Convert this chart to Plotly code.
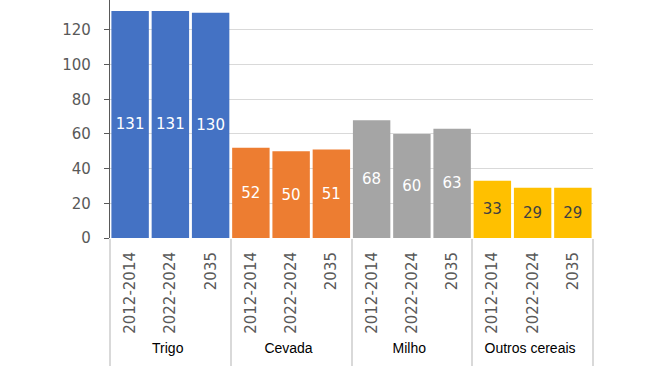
import plotly.graph_objects as go

groups = ["Trigo", "Cevada", "Milho", "Outros cereais"]
periods = ["2012-2014", "2022-2024", "2035"]
values = {
    "Trigo": [131, 131, 130],
    "Cevada": [52, 50, 51],
    "Milho": [68, 60, 63],
    "Outros cereais": [33, 29, 29],
}
group_colors = {"Trigo": "#4472C4", "Cevada": "#ED7D31", "Milho": "#A5A5A5", "Outros cereais": "#FFC000"}
label_colors = {"Trigo": "#FFFFFF", "Cevada": "#FFFFFF", "Milho": "#FFFFFF", "Outros cereais": "#404040"}
y_ticks = [0, 20, 40, 60, 80, 100, 120, 140]

outer, inner, ys, cols, tcols = [], [], [], [], []
for g in groups:
    lbl = ("<span style='font-family:Liberation Sans, Arial;font-size:14px;fill:#000000'>"
           + g + "</span><br> ")
    for p, v in zip(periods, values[g]):
        outer.append(lbl)
        inner.append(p)
        ys.append(v)
        cols.append(group_colors[g])
        tcols.append(label_colors[g])

fig = go.Figure(go.Bar(
    x=[outer, inner], y=ys,
    marker=dict(color=cols, line=dict(width=0)),
    text=[str(v) for v in ys], textposition="inside", insidetextanchor="middle",
    textfont=dict(family="DejaVu Sans", size=15, color=tcols),
    constraintext="none", textangle=0, hoverinfo="skip",
))

fig.update_layout(
    width=650, height=366,
    margin=dict(l=110, r=57, t=0, b=128),
    plot_bgcolor="white", paper_bgcolor="white",
    bargap=0.07, showlegend=False,
)
fig.update_xaxes(
    type="multicategory", tickangle=-90, automargin=False,
    tickfont=dict(family="DejaVu Sans", size=15, color="#595959"),
    ticklabelstandoff=10,
    showdividers=True, dividercolor="#D9D9D9", dividerwidth=1.5,
    showline=False, ticks="", showgrid=False,
)
fig.update_yaxes(
    range=[0, 137.3], tickvals=y_ticks, automargin=False,
    tickfont=dict(family="DejaVu Sans", size=15, color="#595959"),
    ticklabelstandoff=10,
    showline=True, linecolor="#595959", linewidth=1.2,
    ticks="outside", ticklen=5, tickcolor="#595959",
    gridcolor="#D9D9D9", gridwidth=1, zeroline=False,
)
fig.add_annotation(
    x=0, xref="paper", y=140 / 137.3, yref="paper", text="140", showarrow=False,
    xanchor="right", yanchor="middle", xshift=-17,
    font=dict(family="DejaVu Sans", size=15, color="#595959"),
)

fig.write_html(
    "out.html",
    config={"displayModeBar": False},
    post_script="document.body.style.margin='0';document.body.style.overflow='hidden';",
)
